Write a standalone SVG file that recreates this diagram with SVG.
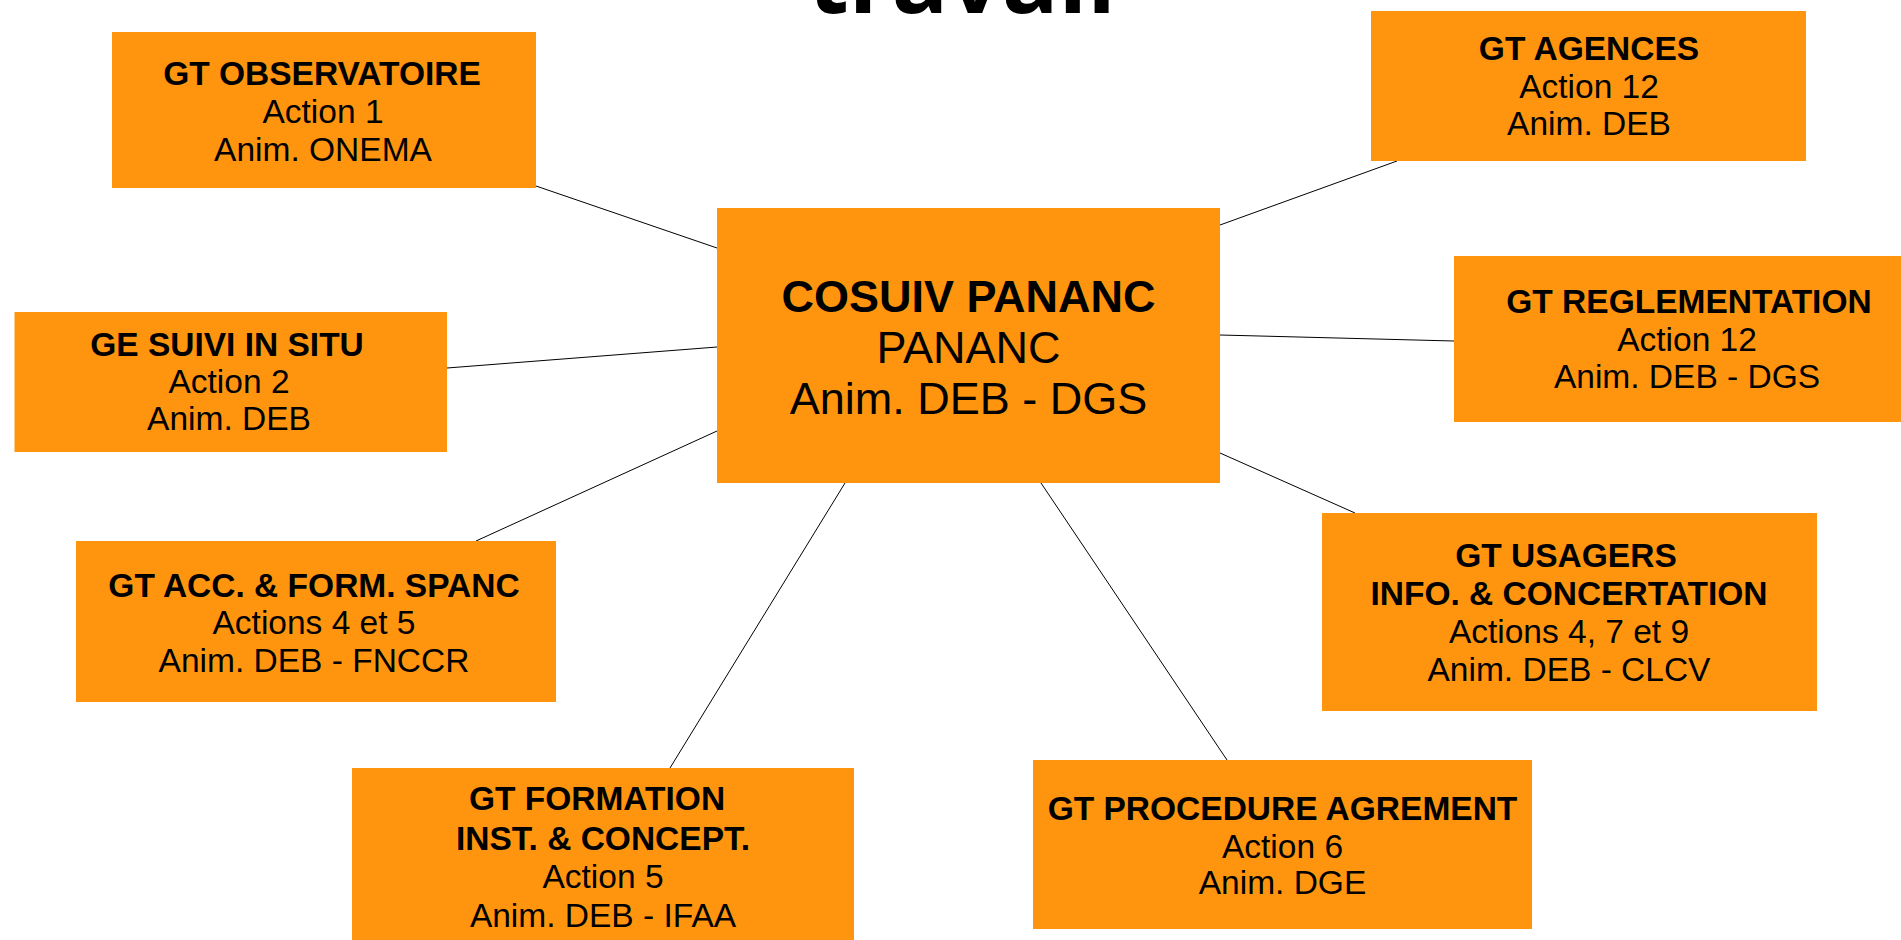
<svg xmlns="http://www.w3.org/2000/svg" width="1901" height="940" viewBox="0 0 1901 940">
<style>
.box{fill:#FF950E}
.t{font-family:"Liberation Sans",Arial,sans-serif;font-size:33.5px;fill:#000;text-anchor:middle}
.b{font-weight:bold}
.c{font-size:45px}
.conn line{stroke:#000;stroke-width:1}
.title{font-family:"Open Sans","DejaVu Sans",sans-serif;font-weight:bold;font-size:94px;text-anchor:middle;fill:#000}
</style>
<rect width="1901" height="940" fill="#fff"/>
<text class="title" x="962" y="13">travail</text>
<g id="connectors" class="conn">
<line x1="536" y1="186" x2="717" y2="248"/>
<line x1="447" y1="368" x2="717" y2="347"/>
<line x1="717" y1="431" x2="476" y2="541"/>
<line x1="845" y1="483" x2="670" y2="768"/>
<line x1="1220" y1="225" x2="1397" y2="161"/>
<line x1="1220" y1="335" x2="1454" y2="341"/>
<line x1="1220" y1="453" x2="1355" y2="513"/>
<line x1="1041" y1="483" x2="1227" y2="760"/>
</g>
<g id="cosuiv">
<rect class="box" x="717" y="208" width="503" height="275"/>
<text class="t c b" x="968.5" y="312">COSUIV PANANC</text>
<text class="t c" x="968.5" y="363">PANANC</text>
<text class="t c" x="968.5" y="414">Anim. DEB - DGS</text>
</g>
<g id="observatoire">
<rect class="box" x="112" y="32" width="424" height="156"/>
<text class="t b" x="322" y="85">GT OBSERVATOIRE</text>
<text class="t" x="323" y="123">Action 1</text>
<text class="t" x="323" y="161">Anim. ONEMA</text>
</g>
<g id="suivi">
<rect class="box" x="14.5" y="312" width="432.5" height="140"/>
<text class="t b" x="227" y="356">GE SUIVI IN SITU</text>
<text class="t" x="229" y="393">Action 2</text>
<text class="t" x="229" y="430">Anim. DEB</text>
</g>
<g id="accform">
<rect class="box" x="76" y="541" width="480" height="161"/>
<text class="t b" x="314" y="597">GT ACC. &amp; FORM. SPANC</text>
<text class="t" x="314" y="634">Actions 4 et 5</text>
<text class="t" x="314" y="672">Anim. DEB - FNCCR</text>
</g>
<g id="formation">
<rect class="box" x="352" y="768" width="502" height="180"/>
<text class="t b" x="597" y="810">GT FORMATION</text>
<text class="t b" x="603" y="850">INST. &amp; CONCEPT.</text>
<text class="t" x="603" y="888">Action 5</text>
<text class="t" x="603" y="927">Anim. DEB - IFAA</text>
</g>
<g id="agences">
<rect class="box" x="1371" y="11" width="435" height="150"/>
<text class="t b" x="1589" y="60">GT AGENCES</text>
<text class="t" x="1589" y="98">Action 12</text>
<text class="t" x="1589" y="135">Anim. DEB</text>
</g>
<g id="reglementation">
<rect class="box" x="1454" y="256" width="470" height="166"/>
<text class="t b" x="1689" y="313">GT REGLEMENTATION</text>
<text class="t" x="1687" y="351">Action 12</text>
<text class="t" x="1687" y="388">Anim. DEB - DGS</text>
</g>
<g id="usagers">
<rect class="box" x="1322" y="513" width="495" height="198"/>
<text class="t b" x="1566" y="567">GT USAGERS</text>
<text class="t b" x="1569" y="605">INFO. &amp; CONCERTATION</text>
<text class="t" x="1569" y="643">Actions 4, 7 et 9</text>
<text class="t" x="1569" y="681">Anim. DEB - CLCV</text>
</g>
<g id="procedure">
<rect class="box" x="1033" y="760" width="499" height="169"/>
<text class="t b" x="1282.5" y="820">GT PROCEDURE AGREMENT</text>
<text class="t" x="1282.5" y="858">Action 6</text>
<text class="t" x="1282.5" y="894">Anim. DGE</text>
</g>
</svg>
